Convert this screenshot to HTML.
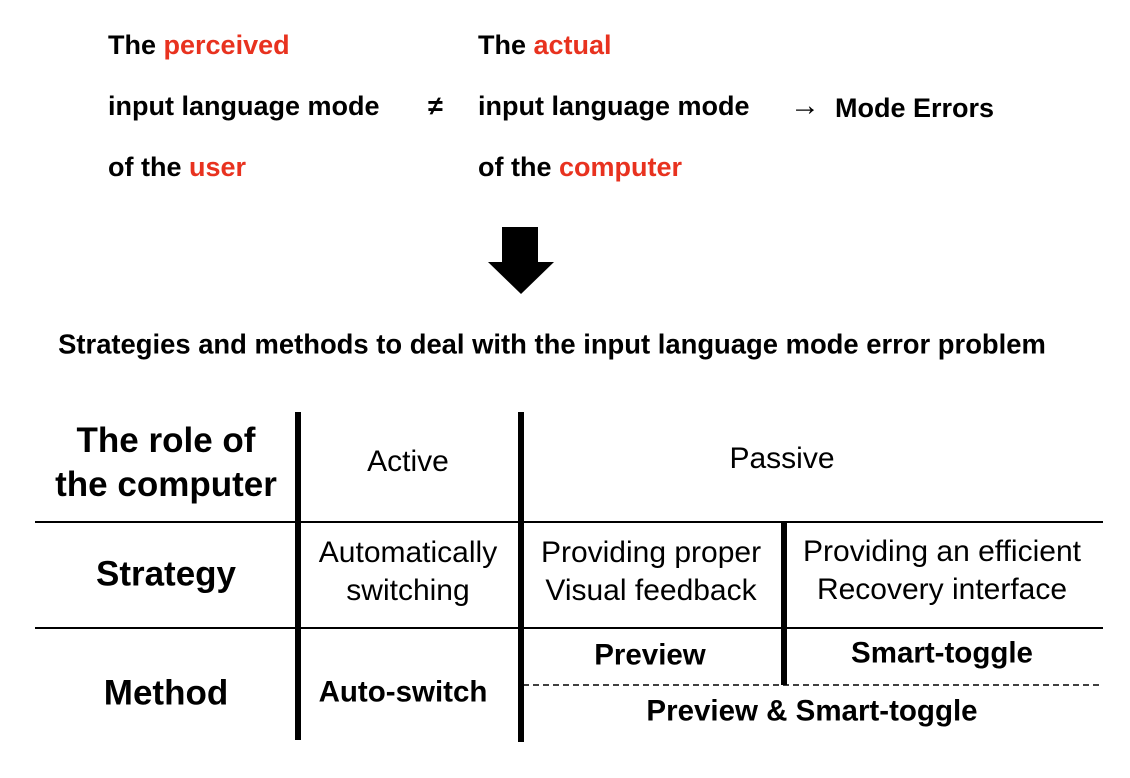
<!DOCTYPE html>
<html><head><meta charset="utf-8"><style>
body{margin:0;width:1130px;height:778px;background:#fff;position:relative;overflow:hidden;font-family:"Liberation Sans","NanumGothic",sans-serif;color:#000}
.t{position:absolute;white-space:nowrap;line-height:1}
.b{font-weight:bold}
.r{color:#e8321f}
.c{transform:translate(-50%,-50%);text-align:center}
.vl{position:absolute;background:#000;width:6px}
.hl{position:absolute;background:#000;height:2px}
</style></head><body>
<div class="t b" style="left:108px;top:32px;font-size:27px">The <span class="r">perceived</span></div>
<div class="t b" style="left:108px;top:93px;font-size:27px">input language mode</div>
<div class="t b" style="left:108px;top:154px;font-size:27px">of the <span class="r">user</span></div>
<div class="t b" style="left:428px;top:93px;font-size:27px">≠</div>
<div class="t b" style="left:478px;top:32px;font-size:27px">The <span class="r">actual</span></div>
<div class="t b" style="left:478px;top:93px;font-size:27px">input language mode</div>
<div class="t b" style="left:478px;top:154px;font-size:27px">of the <span class="r">computer</span></div>
<div class="t b" style="left:790px;top:93px;font-size:27px"><span style="font-size:30px;position:relative;top:-2px">→</span>&nbsp; Mode Errors</div>
<svg style="position:absolute;left:0;top:0" width="1130" height="778">
<rect x="502" y="227" width="36" height="36" fill="#000"/>
<polygon points="488,262 554,262 521,294" fill="#000"/>
<line x1="523" y1="685" x2="1103" y2="685" stroke="#000" stroke-width="1.5" stroke-dasharray="6,4"/>
</svg>
<div class="t b c" style="left:552px;top:344px;font-size:27.4px">Strategies and methods to deal with the input language mode error problem</div>
<div class="vl" style="left:295px;top:412px;height:328px"></div>
<div class="vl" style="left:518px;top:412px;height:330px"></div>
<div class="vl" style="left:781px;top:522px;height:163px"></div>
<div class="hl" style="left:35px;top:521px;width:1068px"></div>
<div class="hl" style="left:35px;top:627px;width:1068px"></div>
<div class="t b c" style="left:166px;top:463px;font-size:35px;line-height:44px">The role of<br>the computer</div>
<div class="t c" style="left:408px;top:462px;font-size:30px">Active</div>
<div class="t c" style="left:782px;top:459px;font-size:30px">Passive</div>
<div class="t b c" style="left:166px;top:574px;font-size:35px">Strategy</div>
<div class="t c" style="left:408px;top:572px;font-size:30px;line-height:38px">Automatically<br>switching</div>
<div class="t c" style="left:651px;top:572px;font-size:30px;line-height:38px">Providing proper<br>Visual feedback</div>
<div class="t c" style="left:942px;top:571px;font-size:30px;line-height:38px">Providing an efficient<br>Recovery interface</div>
<div class="t b c" style="left:166px;top:693px;font-size:35px">Method</div>
<div class="t b c" style="left:403px;top:692px;font-size:29.5px">Auto-switch</div>
<div class="t b c" style="left:650px;top:655px;font-size:29.5px">Preview</div>
<div class="t b c" style="left:942px;top:653px;font-size:29.5px">Smart-toggle</div>
<div class="t b c" style="left:812px;top:711px;font-size:29.5px">Preview &amp; Smart-toggle</div>
</body></html>
